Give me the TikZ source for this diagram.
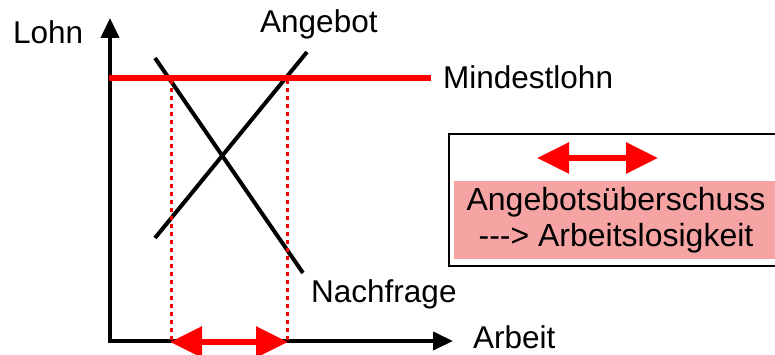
\documentclass[tikz,border=0pt]{standalone}
\usepackage{fontspec}
\setmainfont{Liberation Sans}
\usepackage{tikz}
\usetikzlibrary{arrows.meta}
\usetikzlibrary{positioning}
\usepackage{xcolor}
\definecolor{excesspink}{RGB}{245,163,163}

\begin{document}
\begin{tikzpicture}[x=1pt,y=-1pt]
  \tikzset{lbl/.style = {font=\fontsize{31.5}{36}\selectfont, inner sep=0pt}}
  \tikzset{axis/.style = {line width=4pt, -{Triangle[length=20pt,width=18pt]}}}
  \tikzset{curve/.style = {line width=4pt}}
  \tikzset{wage/.style = {red, line width=6pt}}
  \tikzset{guide/.style = {red, line width=3pt, dash pattern=on 4pt off 4pt}}
  \tikzset{%
  tipR/.tip={Triangle[length=32pt,width=30pt]},
}
  \tikzset{gap/.style = {red, line width=6pt, tipR-tipR}}
  \tikzset{legendbox/.style = {draw, line width=2pt, inner sep=0pt, anchor=north west}}

  \useasboundingbox (0,0) rectangle (775,355);
  \clip (0,0) rectangle (775,355);

	% axes
	\coordinate (O) at (110,341);
	\coordinate (Y) at (110,18);
	\coordinate (X) at (453,341);
	\draw[axis] (O) -- (Y);
	\draw[axis] ([xshift=-2pt]O) -- (X);
	\node[lbl, anchor=base west] (lohn) at (13,44) {Lohn};
	\node[lbl, anchor=base west] (arbeit) at (473,348) {Arbeit};

	% supply and demand
	\coordinate (D1) at (155,58);
	\coordinate (D2) at (303,273);
	\coordinate (S1) at (155,238);
	\coordinate (S2) at (307,52);
    \foreach \from/\to in {D1/D2, S1/S2}
    \draw[curve] (\from) -- (\to);
	\node[lbl, anchor=base west] (angebot) at (260,33) {Angebot};
	\node[lbl, anchor=base west] (nachfrage) at (311,302) {Nachfrage};

	% minimum wage
	\coordinate (W1) at (109,78);
	\coordinate (W2) at (431,78);
	\node[lbl, anchor=base west] (mindest) at (443,89) {Mindestlohn};

	\coordinate (P1) at (171,80);
	\coordinate (Q1) at (171,341);
	\coordinate (P2) at (287,80);
	\coordinate (Q2) at (287,341);
    \foreach \from/\to in {P1/Q1, P2/Q2}
    \draw[guide] (\from) -- (\to);
	\draw[wage] (W1) -- (W2);

	\draw[gap] (170,342) coordinate (G1) -- (288,342) coordinate (G2);

	% legend
	\node[legendbox, minimum width=350pt, minimum height=132pt] (legend) at (448,133) {};
	\node[lbl, font=\fontsize{32}{36}\selectfont, fill=excesspink, align=center, inner xsep=12.5pt, minimum height=77pt] (excess) at (616,220)
	  {Angebotsüberschuss\\-{}-{}-{}> Arbeitslosigkeit};
	\coordinate (L1) at (537,158);
	\coordinate (L2) at (658,158);
	\draw[gap] (L1) -- (L2);

\end{tikzpicture}
\end{document}
